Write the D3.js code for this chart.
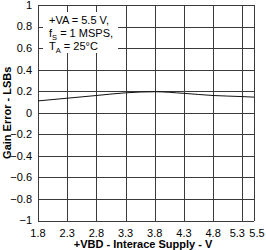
<!DOCTYPE html>
<meta charset="utf-8">
<style>
    body { margin: 0; background: #fff; }
    svg { font: 11px "Liberation Sans", Arial, sans-serif; }
    .grid line { stroke: #3a3a3a; stroke-width: 1; shape-rendering: crispEdges; }
    .axisTitle { font-weight: bold; }
</style>
<body>
<script src="https://cdn.jsdelivr.net/npm/d3@7"></script>
<script>
    var supply = [1.8, 2.3, 2.8, 3.3, 3.8, 4.3, 4.8, 5.3, 5.5];
    var gainError = [0.11, 0.135, 0.16, 0.185, 0.195, 0.18, 0.16, 0.15, 0.145];
    var xTicks = [1.8, 2.3, 2.8, 3.3, 3.8, 4.3, 4.8, 5.3, 5.5];
    var yTicks = [-1, -0.8, -0.6, -0.4, -0.2, 0, 0.2, 0.4, 0.6, 0.8, 1];

    var margin = { top: 5, right: 12, bottom: 29.5, left: 38 },
        width = 266 - margin.left - margin.right,
        height = 250 - margin.top - margin.bottom;

    var svg = d3.select("body").append("svg")
        .attr("width", 266)
        .attr("height", 250);

    var g = svg.append("g")
        .attr("transform", "translate(" + margin.left + "," + margin.top + ")");

    var x = d3.scaleLinear().domain([1.8, 5.5]).range([0, width]);
    var y = d3.scaleLinear().domain([-1, 1]).range([height, 0]);

    // gridlines
    var grid = g.append("g").attr("class", "grid");
    grid.selectAll(".v").data(xTicks).enter().append("line")
        .attr("x1", d => Math.round(x(d)) + 0.5).attr("x2", d => Math.round(x(d)) + 0.5)
        .attr("y1", 0).attr("y2", height);
    grid.selectAll(".h").data(yTicks).enter().append("line")
        .attr("x1", 0).attr("x2", width)
        .attr("y1", d => Math.round(y(d)) + 0.5).attr("y2", d => Math.round(y(d)) + 0.5);

    // annotation box
    g.append("rect")
        .attr("x", 5).attr("y", 7)
        .attr("width", 75).attr("height", 41)
        .attr("fill", "#fff");

    var note = g.append("text").attr("x", 11).attr("y", 19);
    note.append("tspan").text("+VA = 5.5 V,");
    var l2 = g.append("text").attr("x", 11).attr("y", 32);
    l2.append("tspan").text("f");
    l2.append("tspan").attr("font-size", "7.5px").attr("dy", 2.5).text("S");
    l2.append("tspan").attr("dy", -2.5).text(" = 1 MSPS,");
    var l3 = g.append("text").attr("x", 11).attr("y", 45);
    l3.append("tspan").text("T");
    l3.append("tspan").attr("font-size", "7.5px").attr("dy", 2.5).text("A");
    l3.append("tspan").attr("dy", -2.5).text(" = 25°C");

    // curve
    var line = d3.line()
        .x((d, i) => x(supply[i]))
        .y(d => y(d))
        .curve(d3.curveMonotoneX);
    g.append("path")
        .datum(gainError)
        .attr("d", line)
        .attr("fill", "none")
        .attr("stroke", "#111")
        .attr("stroke-width", 1);

    // tick labels
    g.selectAll(".ylab").data(yTicks).enter().append("text")
        .attr("x", -6).attr("y", d => y(d)).attr("dy", "0.35em")
        .attr("text-anchor", "end")
        .text(d => d3.format("")(d));
    g.selectAll(".xlab").data(xTicks).enter().append("text")
        .attr("x", d => x(d)).attr("y", height + 16)
        .attr("text-anchor", "middle")
        .attr("dx", d => d == 5.3 ? -5 : (d == 5.5 ? 3 : 0))
        .text(d => d3.format(".1f")(d));

    // axis titles
    svg.append("text")
        .attr("class", "axisTitle")
        .attr("x", margin.left + width / 2 - 3)
        .attr("y", 248)
        .attr("text-anchor", "middle")
        .text("+VBD - Interace Supply - V");
    svg.append("text")
        .attr("class", "axisTitle")
        .attr("transform", "translate(11," + (margin.top + height / 2) + ") rotate(-90)")
        .attr("text-anchor", "middle")
        .text("Gain Error - LSBs");
</script>
</body>
